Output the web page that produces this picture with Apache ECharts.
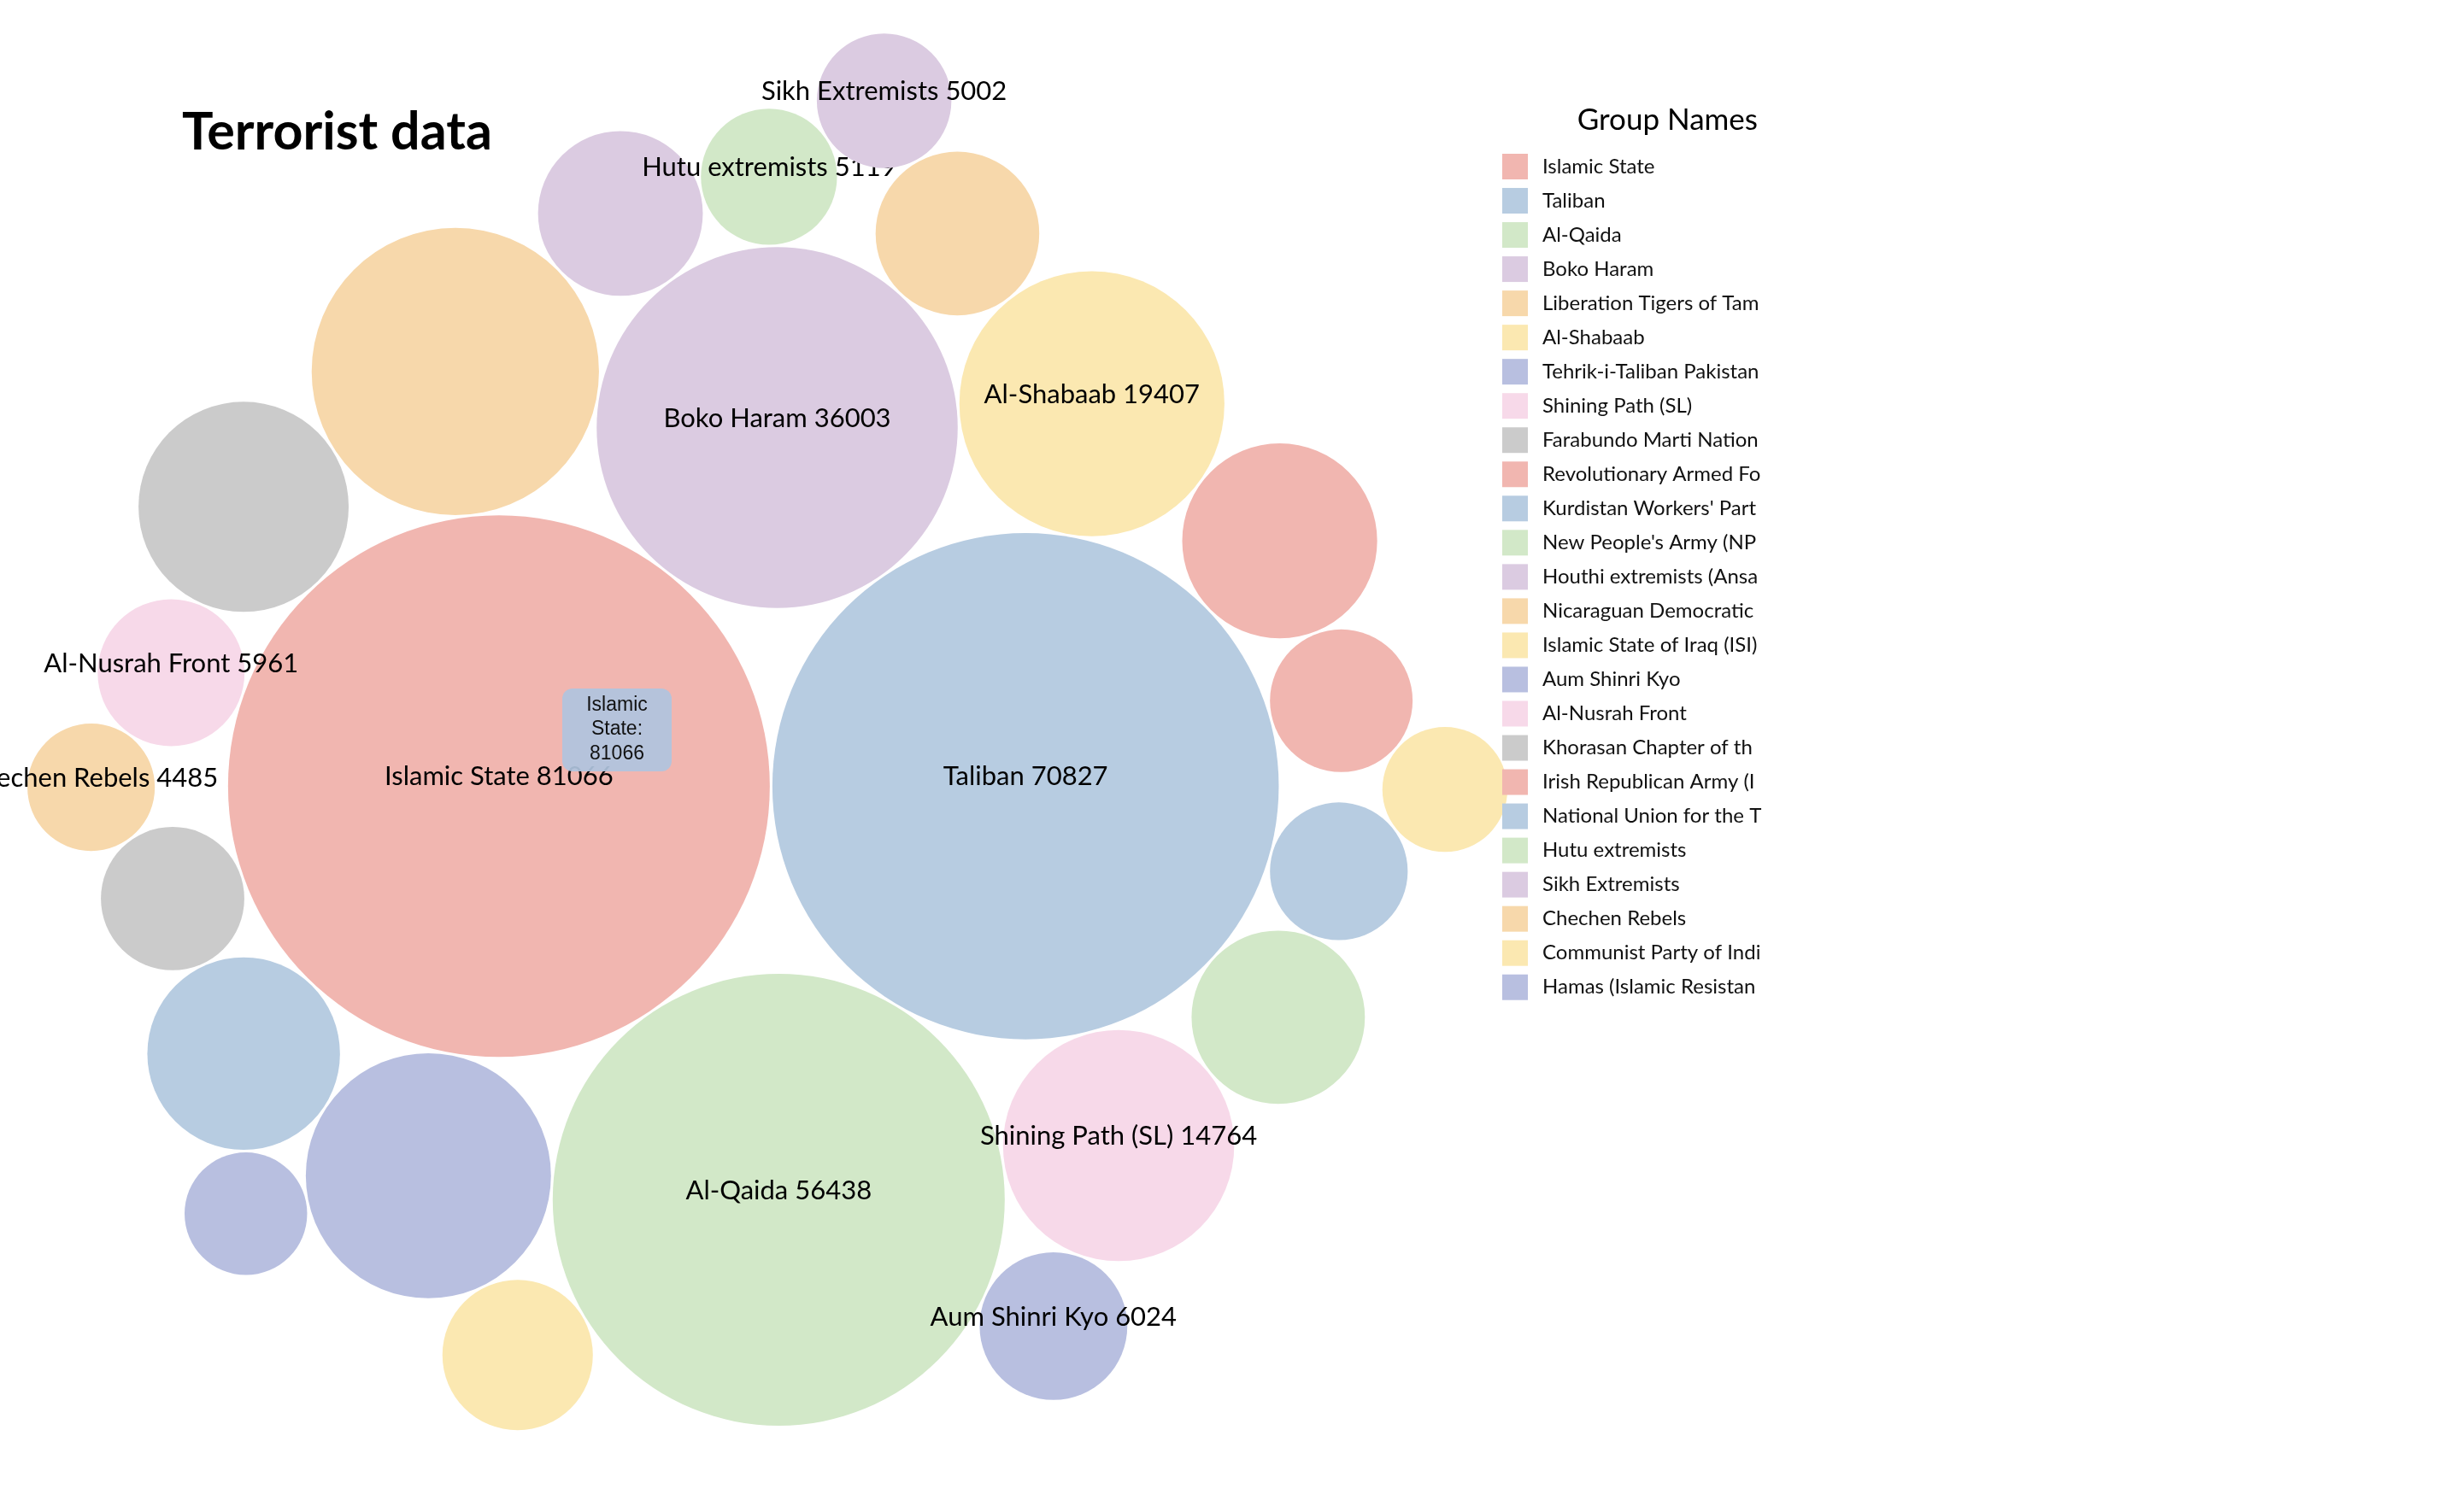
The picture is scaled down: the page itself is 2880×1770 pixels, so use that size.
<!DOCTYPE html>
<html>
<head>
<meta charset="utf-8">
<script src="https://cdn.jsdelivr.net/npm/echarts@6/dist/echarts.min.js"></script>
<style>html,body{margin:0;padding:0;background:#fff}#chart{width:2880px;height:1770px}</style>
</head>
<body>
<div id="chart"></div>
<script>
// ---- data ----
const groupNames = [
  'Islamic State', 'Taliban', 'Al-Qaida', 'Boko Haram',
  'Liberation Tigers of Tamil Eelam (LTTE)', 'Al-Shabaab',
  'Tehrik-i-Taliban Pakistan (TTP)', 'Shining Path (SL)',
  'Farabundo Marti National Liberation Front (FMLN)',
  'Revolutionary Armed Forces of Colombia (FARC)',
  "Kurdistan Workers' Party (PKK)", "New People's Army (NPA)",
  'Houthi extremists (Ansar Allah)', 'Nicaraguan Democratic Force (FDN)',
  'Islamic State of Iraq (ISI)', 'Aum Shinri Kyo', 'Al-Nusrah Front',
  'Khorasan Chapter of the Islamic State', 'Irish Republican Army (IRA)',
  'National Union for the Total Independence of Angola (UNITA)',
  'Hutu extremists', 'Sikh Extremists', 'Chechen Rebels',
  'Communist Party of India - Maoist (CPI-Maoist)',
  'Hamas (Islamic Resistance Movement)'
];
const casualties = [
  81066, 70827, 56438, 36003,
  22800, 19407,
  16600, 14764,
  12200,
  10500,
  10250, 8300,
  7500, 7400,
  6250, 6024, 5961,
  5680, 5620,
  5240,
  5119, 5002, 4485,
  4320,
  4150
];
const palette = ['#f1b6b0', '#b7cce1', '#d2e8c8', '#dbcbe1', '#f7d8ab', '#fbe8b1', '#b8bfe0', '#f7d9e9', '#cbcbcb'];
const titleText = 'Terrorist data';
const legendTitle = 'Group Names';
const labelMaxChars = 20;   // groups with longer names get no bubble label

// ---- layout parameters ----
const W = 2880, H = 1770;
const maxRadius = 317;            // px radius of the largest bubble
const padding = 3;                // px between bubbles
const packCenter = [893, 898];    // px centre of the enclosing circle of the pack

// ---- circle packing (front-chain sibling packing, as d3.packSiblings) ----
function place(b, a, c) {
  const dx = b.x - a.x, dy = b.y - a.y, d2 = dx * dx + dy * dy;
  if (d2) {
    let a2 = a.r + c.r; a2 *= a2;
    let b2 = b.r + c.r; b2 *= b2;
    if (a2 > b2) {
      const x = (d2 + b2 - a2) / (2 * d2);
      const y = Math.sqrt(Math.max(0, b2 / d2 - x * x));
      c.x = b.x - x * dx - y * dy;
      c.y = b.y - x * dy + y * dx;
    } else {
      const x = (d2 + a2 - b2) / (2 * d2);
      const y = Math.sqrt(Math.max(0, a2 / d2 - x * x));
      c.x = a.x + x * dx - y * dy;
      c.y = a.y + x * dy + y * dx;
    }
  } else {
    c.x = a.x + c.r; c.y = a.y;
  }
}
function intersects(a, b) {
  const dr = a.r + b.r - 1e-6, dx = b.x - a.x, dy = b.y - a.y;
  return dr > 0 && dr * dr > dx * dx + dy * dy;
}
function score(node) {
  const a = node._, b = node.next._, ab = a.r + b.r;
  const dx = (a.x * b.r + b.x * a.r) / ab, dy = (a.y * b.r + b.y * a.r) / ab;
  return dx * dx + dy * dy;
}
function packSiblings(circles) {
  const n = circles.length;
  let a = circles[0]; a.x = 0; a.y = 0;
  if (n < 2) return;
  let b = circles[1]; a.x = -b.r; b.x = a.r; b.y = 0;
  if (n < 3) return;
  place(b, a, circles[2]);
  a = {_: circles[0]}; b = {_: circles[1]}; let c = {_: circles[2]};
  a.next = c.previous = b;
  b.next = a.previous = c;
  c.next = b.previous = a;
  pack: for (let i = 3; i < n; ++i) {
    place(a._, b._, circles[i]); c = {_: circles[i]};
    let j = b.next, k = a.previous, sj = b._.r, sk = a._.r;
    do {
      if (sj <= sk) {
        if (intersects(j._, c._)) { b = j; a.next = b; b.previous = a; --i; continue pack; }
        sj += j._.r; j = j.next;
      } else {
        if (intersects(k._, c._)) { a = k; a.next = b; b.previous = a; --i; continue pack; }
        sk += k._.r; k = k.previous;
      }
    } while (j !== k.next);
    c.previous = a; c.next = b; a.next = b.previous = b = c;
    let aa = score(a);
    while ((c = c.next) !== b) {
      const ca = score(c);
      if (ca < aa) { a = c; aa = ca; }
    }
    b = a.next;
  }
}
// smallest circle enclosing all circles (brute force over bases)
function enclose2(a, b) {
  const x21 = b.x - a.x, y21 = b.y - a.y, r21 = b.r - a.r, l = Math.hypot(x21, y21);
  return {x: (a.x + b.x + x21 / l * r21) / 2, y: (a.y + b.y + y21 / l * r21) / 2, r: (l + a.r + b.r) / 2};
}
function enclose3(a, b, c) {
  const x1 = a.x, y1 = a.y, r1 = a.r, x2 = b.x, y2 = b.y, r2 = b.r, x3 = c.x, y3 = c.y, r3 = c.r;
  const a2 = x1 - x2, a3 = x1 - x3, b2 = y1 - y2, b3 = y1 - y3, c2 = r2 - r1, c3 = r3 - r1;
  const d1 = x1 * x1 + y1 * y1 - r1 * r1, d2 = d1 - x2 * x2 - y2 * y2 + r2 * r2, d3 = d1 - x3 * x3 - y3 * y3 + r3 * r3;
  const ab = a3 * b2 - a2 * b3;
  const xa = (b2 * d3 - b3 * d2) / (ab * 2) - x1, xb = (b3 * c2 - b2 * c3) / ab;
  const ya = (a3 * d2 - a2 * d3) / (ab * 2) - y1, yb = (a2 * c3 - a3 * c2) / ab;
  const A = xb * xb + yb * yb - 1, B = 2 * (r1 + xa * xb + ya * yb), C = xa * xa + ya * ya - r1 * r1;
  const r = -(Math.abs(A) > 1e-6 ? (B + Math.sqrt(B * B - 4 * A * C)) / (2 * A) : C / B);
  return {x: x1 + xa + xb * r, y: y1 + ya + yb * r, r: r};
}
function enclosing(cs) {
  const ok = e => e && isFinite(e.r) && cs.every(q => Math.hypot(q.x - e.x, q.y - e.y) + q.r <= e.r + 1e-6);
  let best = null;
  const consider = e => { if (ok(e) && (!best || e.r < best.r)) best = e; };
  cs.forEach(q => consider({x: q.x, y: q.y, r: q.r}));
  for (let i = 0; i < cs.length; i++) for (let j = i + 1; j < cs.length; j++) {
    consider(enclose2(cs[i], cs[j]));
    for (let k = j + 1; k < cs.length; k++) consider(enclose3(cs[i], cs[j], cs[k]));
  }
  return best;
}

const vmax = Math.max(...casualties);
const radii = casualties.map(v => maxRadius * Math.sqrt(v / vmax));
const nodes = radii.map(r => ({r: r + padding / 2, x: 0, y: 0}));
packSiblings(nodes);
nodes.forEach((q, i) => { q.r = radii[i]; });
const enc = enclosing(nodes.map(q => ({x: q.x, y: q.y, r: q.r + padding / 2})));
// axis ranges: one data unit = one pixel, enclosing centre at packCenter
const xMin = enc.x - packCenter[0];
const yMin = enc.y - packCenter[1];

const labelFont = 31;
function renderBubble(params, api) {
  const c = api.coord([api.value(0), api.value(1)]);
  const r = api.size([api.value(2), 0])[0];
  const name = groupNames[params.seriesIndex];
  const children = [{
    type: 'circle',
    shape: {cx: c[0], cy: c[1], r: r},
    style: {fill: api.visual('color')}
  }];
  if (name.length <= labelMaxChars) {
    children.push({
      type: 'text',
      x: c[0], y: c[1] - labelFont * 0.35,
      style: {
        text: name + ' ' + api.value(3),
        fontFamily: 'Lato', fontSize: labelFont, fill: '#000',
        align: 'center', verticalAlign: 'middle'
      }
    });
  }
  return {type: 'group', children: children};
}

const series = groupNames.map((name, i) => ({
  type: 'custom',
  name: name,
  coordinateSystem: 'cartesian2d',
  renderItem: renderBubble,
  data: [[nodes[i].x, nodes[i].y, nodes[i].r, casualties[i]]],
  encode: {x: 0, y: 1, tooltip: 3},
  animation: false
}));

const chart = echarts.init(document.getElementById('chart'), null, {renderer: 'canvas'});
chart.setOption({
  animation: false,
  color: palette,
  backgroundColor: '#fff',
  title: [
    {text: titleText, left: 208, top: 120,
     textStyle: {fontFamily: 'Lato', fontWeight: 'bold', fontSize: 61, color: '#000'}},
    {text: legendTitle, right: 818, top: 118,
     textStyle: {fontFamily: 'Lato', fontWeight: 'normal', fontSize: 35, color: '#000'}}
  ],
  grid: {left: 0, right: 0, top: 0, bottom: 0},
  xAxis: {type: 'value', min: xMin, max: xMin + W, show: false},
  yAxis: {type: 'value', inverse: true, min: yMin, max: yMin + H, show: false},
  legend: {
    orient: 'vertical', left: 1753, top: 175,
    itemWidth: 30, itemHeight: 30, itemGap: 10.03, icon: 'rect',
    selectedMode: false,
    data: groupNames,
    textStyle: {fontFamily: 'Lato', fontSize: 24, color: '#111',
      width: 259, overflow: 'truncate', ellipsis: '', padding: [0, 0, 0, 12]}
  },
  tooltip: {
    trigger: 'item', triggerOn: 'none', alwaysShowContent: true,
    position: [658, 806], padding: 0, borderWidth: 0,
    backgroundColor: 'transparent', transitionDuration: 0,
    extraCssText: 'box-shadow:none;',
    formatter: p => '<div style="box-sizing:border-box;width:128px;height:97px;padding:4px 10px;' +
      'background:rgba(176,196,222,0.92);border-radius:12px;text-align:center;white-space:normal;' +
      'font:23px/28.3px \'Liberation Sans\',Arial,sans-serif;color:#111">' +
      p.seriesName + ': ' + p.value[3] + '</div>'
  },
  series: series
});
chart.dispatchAction({type: 'showTip', seriesIndex: 0, dataIndex: 0});
</script>
</body>
</html>
